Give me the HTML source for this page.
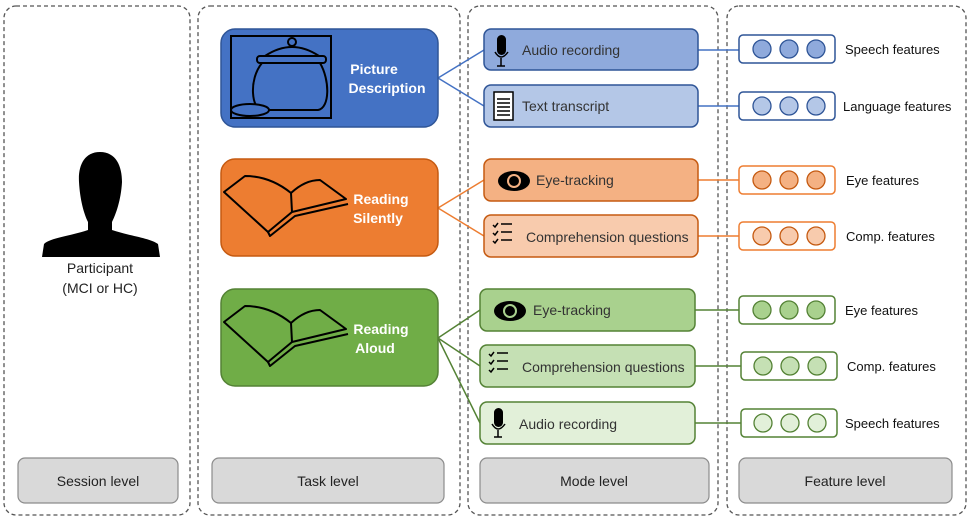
<!DOCTYPE html>
<html><head><meta charset="utf-8"><style>
body{margin:0;background:#fff}
svg{display:block;font-family:"Liberation Sans",sans-serif}
</style></head><body>
<svg width="971" height="523" viewBox="0 0 971 523" xmlns="http://www.w3.org/2000/svg">
<g fill="none" stroke="#555" stroke-width="1.3" stroke-dasharray="4,3">
<rect x="4" y="6" width="186" height="509" rx="12"/>
<rect x="198" y="6" width="262" height="509" rx="12"/>
<rect x="468" y="6" width="250" height="509" rx="12"/>
<rect x="727" y="6" width="239" height="509" rx="12"/>
</g>
<g fill="#D9D9D9" stroke="#8c8c8c" stroke-width="1.2">
<rect x="18" y="458" width="160" height="45" rx="7"/>
<rect x="212" y="458" width="232" height="45" rx="7"/>
<rect x="480" y="458" width="229" height="45" rx="7"/>
<rect x="739" y="458" width="213" height="45" rx="7"/>
</g>
<g font-size="14" fill="#222" text-anchor="middle">
<text x="98" y="486">Session level</text>
<text x="328" y="486">Task level</text>
<text x="594" y="486">Mode level</text>
<text x="845" y="486">Feature level</text>
</g>
<!-- participant -->
<path d="M100 152 C84 152 78 166 79 182 C80 200 84 214 88 222 L88 230 C70 236 50 238 44 244 L42 257 L160 257 L158 244 C150 238 130 236 112 230 L112 222 C116 214 121 200 122 182 C122 166 116 152 100 152 Z" fill="#000"/>
<text x="100" y="273" font-size="14" text-anchor="middle" fill="#222">Participant</text>
<text x="100" y="293" font-size="14" text-anchor="middle" fill="#222">(MCI or HC)</text>
<!-- connectors -->
<g stroke-width="1.5" fill="none">
<path d="M438 78 L484 50 M438 78 L484 106 M698 50 L739 50 M698 106 L739 106" stroke="#4472C4"/>
<path d="M438 208 L484 180 M438 208 L484 236 M698 180 L739 180 M698 236 L739 236" stroke="#ED7D31"/>
<path d="M438 338 L480 310 M438 338 L480 366 M438 338 L480 423 M695 310 L739 310 M695 366 L741 366 M695 423 L741 423" stroke="#548235"/>
</g>
<!-- task boxes -->
<rect x="221" y="29" width="217" height="98" rx="14" fill="#4472C4" stroke="#2F5597" stroke-width="1.5"/>
<rect x="221" y="159" width="217" height="97" rx="14" fill="#ED7D31" stroke="#C55A11" stroke-width="1.5"/>
<rect x="221" y="289" width="217" height="97" rx="14" fill="#70AD47" stroke="#548235" stroke-width="1.5"/>
<g font-size="14" font-weight="bold" fill="#fff" text-anchor="middle">
<text x="374" y="74">Picture</text><text x="387" y="93">Description</text>
<text x="381" y="204">Reading</text><text x="378" y="223">Silently</text>
<text x="381" y="334">Reading</text><text x="375" y="353">Aloud</text>
</g>
<!-- cookie jar -->
<g stroke="#000" stroke-width="2" fill="none">
<rect x="231" y="36" width="100" height="82"/>
<circle cx="292" cy="42" r="4"/>
<path d="M265 56 Q292 38 319 56"/>
<rect x="257" y="56" width="69" height="7" rx="3"/>
<path d="M262 63 C248 80 252 110 262 110 L318 110 C330 108 330 80 320 63"/>
<ellipse cx="250" cy="110" rx="19" ry="6" fill="#4472C4"/>
</g>
<!-- books -->
<g stroke="#000" stroke-width="2" fill="none" stroke-linejoin="round">
<path d="M224 192 L245 176 Q270 176 291 193 Q305 180 320 180 L346 199 L292 212 L268 232 Z"/>
<path d="M291 193 L292 212 M268 232 L270 236 L295 216 L348 204"/>
<path d="M224 322 L245 306 Q270 306 291 323 Q305 310 320 310 L346 329 L292 342 L268 362 Z"/>
<path d="M291 323 L292 342 M268 362 L270 366 L295 346 L348 334"/>
</g>
<!-- mode boxes -->
<g stroke-width="1.5">
<rect x="484" y="29" width="214" height="41" rx="7" fill="#8FAADC" stroke="#2F5597"/>
<rect x="484" y="85" width="214" height="42" rx="7" fill="#B4C7E7" stroke="#2F5597"/>
<rect x="484" y="159" width="214" height="42" rx="7" fill="#F4B183" stroke="#C55A11"/>
<rect x="484" y="215" width="214" height="42" rx="7" fill="#F8CBAD" stroke="#C55A11"/>
<rect x="480" y="289" width="215" height="42" rx="7" fill="#A9D18E" stroke="#548235"/>
<rect x="480" y="345" width="215" height="42" rx="7" fill="#C5E0B4" stroke="#548235"/>
<rect x="480" y="402" width="215" height="42" rx="7" fill="#E2F0D9" stroke="#548235"/>
</g>
<g font-size="14" fill="#333">
<text x="522" y="55">Audio recording</text>
<text x="522" y="111">Text transcript</text>
<text x="536" y="185">Eye-tracking</text>
<text x="526" y="242">Comprehension questions</text>
<text x="533" y="315">Eye-tracking</text>
<text x="522" y="372">Comprehension questions</text>
<text x="519" y="429">Audio recording</text>
</g>
<!-- icons -->
<g fill="#000">
<rect x="497" y="35" width="9" height="20" rx="4.5"/>
<rect x="494" y="408" width="9" height="19" rx="4.5"/>
<ellipse cx="514" cy="181" rx="16" ry="10"/><ellipse cx="510" cy="311" rx="16" ry="10"/>
</g>
<g stroke="#000" stroke-width="1.5" fill="none">
<path d="M495 52 Q501 62 508 52 M501 58 V66 M497 66 H505"/>
<path d="M492 424 Q498 434 505 424 M498 430 V437 M494 437 H502"/>
<rect x="494" y="92" width="19" height="28" fill="#fff"/>
<path d="M497 99 H510 M497 103 H510 M497 107 H510 M497 111 H510 M497 115 H510"/>
<path d="M493 225 l2 2 l3-4 M493 233 l2 2 l3-4 M493 241 l2 2 l3-4 M501 224 H512 M501 232 H512 M501 240 H512"/>
<path d="M489 354 l2 2 l3-4 M489 362 l2 2 l3-4 M489 370 l2 2 l3-4 M497 353 H508 M497 361 H508 M497 369 H508"/>
</g>
<g fill="#F4B183"><circle cx="514" cy="181" r="7"/></g>
<g fill="#A9D18E"><circle cx="510" cy="311" r="7"/></g>
<g fill="#000"><circle cx="514" cy="181" r="5"/><circle cx="510" cy="311" r="5"/></g>
<!-- feature boxes -->
<g fill="#fff" stroke-width="1.5">
<rect x="739" y="35" width="96" height="28" rx="4" stroke="#2F5597"/>
<rect x="739" y="92" width="96" height="28" rx="4" stroke="#2F5597"/>
<rect x="739" y="166" width="96" height="28" rx="4" stroke="#ED7D31"/>
<rect x="739" y="222" width="96" height="28" rx="4" stroke="#ED7D31"/>
<rect x="739" y="296" width="96" height="28" rx="4" stroke="#548235"/>
<rect x="741" y="352" width="96" height="28" rx="4" stroke="#548235"/>
<rect x="741" y="409" width="96" height="28" rx="4" stroke="#548235"/>
</g>
<g stroke-width="1.3">
<g fill="#8FAADC" stroke="#2F5597"><circle cx="762" cy="49" r="9"/><circle cx="789" cy="49" r="9"/><circle cx="816" cy="49" r="9"/></g>
<g fill="#B4C7E7" stroke="#2F5597"><circle cx="762" cy="106" r="9"/><circle cx="789" cy="106" r="9"/><circle cx="816" cy="106" r="9"/></g>
<g fill="#F4B183" stroke="#C55A11"><circle cx="762" cy="180" r="9"/><circle cx="789" cy="180" r="9"/><circle cx="816" cy="180" r="9"/></g>
<g fill="#F8CBAD" stroke="#C55A11"><circle cx="762" cy="236" r="9"/><circle cx="789" cy="236" r="9"/><circle cx="816" cy="236" r="9"/></g>
<g fill="#A9D18E" stroke="#548235"><circle cx="762" cy="310" r="9"/><circle cx="789" cy="310" r="9"/><circle cx="816" cy="310" r="9"/></g>
<g fill="#C5E0B4" stroke="#548235"><circle cx="763" cy="366" r="9"/><circle cx="790" cy="366" r="9"/><circle cx="817" cy="366" r="9"/></g>
<g fill="#E2F0D9" stroke="#548235"><circle cx="763" cy="423" r="9"/><circle cx="790" cy="423" r="9"/><circle cx="817" cy="423" r="9"/></g>
</g>
<g font-size="13" fill="#111">
<text x="845" y="54">Speech features</text>
<text x="843" y="111">Language features</text>
<text x="846" y="185">Eye features</text>
<text x="846" y="241">Comp. features</text>
<text x="845" y="315">Eye features</text>
<text x="847" y="371">Comp. features</text>
<text x="845" y="428">Speech features</text>
</g>
</svg>
</body></html>
